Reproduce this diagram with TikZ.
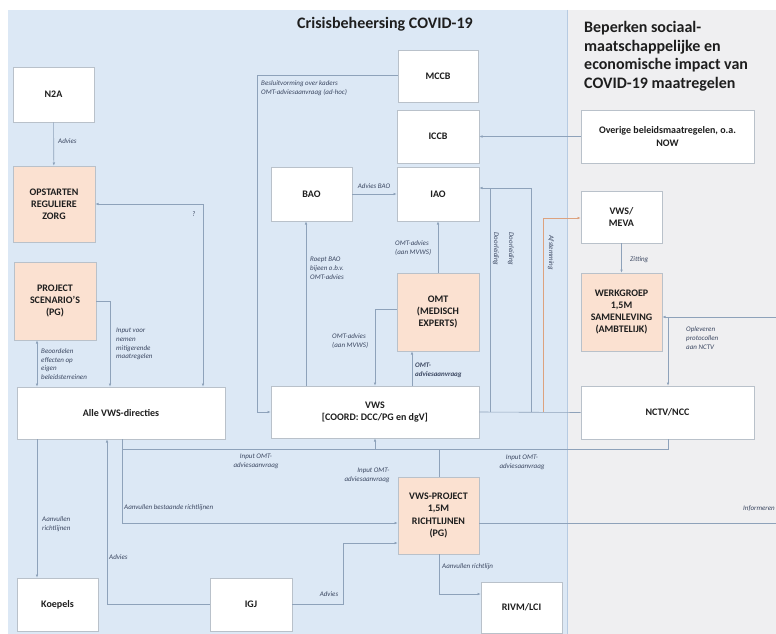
\documentclass[tikz,border=0pt]{standalone}
\usepackage{fontspec}
\setmainfont{Carlito}
\usetikzlibrary{arrows.meta}
\definecolor{bluebg}{HTML}{DCE8F5}
\definecolor{graybg}{HTML}{EFEFF1}
\definecolor{peach}{HTML}{FBE1D1}
\definecolor{boxline}{HTML}{B9C1CA}
\definecolor{linec}{HTML}{8EA2BA}
\definecolor{txt}{HTML}{1E1E1E}
\definecolor{lbltxt}{HTML}{3A4660}
\definecolor{orangec}{HTML}{DDA27E}
\definecolor{bluedge}{HTML}{B7CBE2}
\begin{document}
\begin{tikzpicture}[x=1pt,y=-1pt,
  box/.style={draw=boxline, fill=white, line width=0.6pt, font=\bfseries\fontsize{10}{12.2}\selectfont, align=center, text=txt, inner sep=2pt},
  pbox/.style={box, fill=peach},
  link/.style={draw=linec, line width=0.6pt},
  arr/.style={link, -{Latex[length=3.2pt,width=2.6pt]}},
  lbl/.style={font=\itshape\fontsize{7}{8.8}\selectfont, text=lbltxt, align=left, inner sep=0pt},
  ttl/.style={font=\bfseries\fontsize{16}{18.7}\selectfont, text=txt, inner sep=0pt, align=left}
]
\useasboundingbox (0,0) rectangle (776,634);
% backgrounds
\fill[white] (0,0) rectangle (776,634);
\fill[bluebg] (8,10) rectangle (568,634);
\fill[graybg] (568,10) rectangle (776,634);
\draw[bluedge, line width=0.8pt] (567.5,10) -- (567.5,634);

% titles
\node[ttl, anchor=base] (t1) at (385,29) {Crisisbeheersing COVID-19};
\node[ttl, anchor=north west] (t2) at (584,21) {Beperken sociaal-\\maatschappelijke en\\economische impact van\\COVID-19 maatregelen};

% boxes
\node[box, minimum width=81pt, minimum height=55pt] (n2a) at (53.5,94.5) {N2A};
\node[pbox, minimum width=82pt, minimum height=76pt] (opst) at (54,204) {OPSTARTEN\\REGULIERE\\ZORG};
\node[pbox, minimum width=82pt, minimum height=78pt] (proj) at (55,301) {PROJECT\\SCENARIO'S\\(PG)};
\node[box, minimum width=208pt, minimum height=52pt] (alle) at (121,413) {Alle VWS-directies};
\node[box, minimum width=81pt, minimum height=53pt] (koep) at (57.5,604.5) {Koepels};
\node[box, minimum width=82pt, minimum height=53pt] (igj) at (251,604.5) {IGJ};
\node[box, minimum width=81pt, minimum height=51pt] (rivm) at (521.5,607.5) {RIVM/LCI};
\node[pbox, minimum width=81pt, minimum height=77pt] (vwsp) at (438.5,515.5) {VWS-PROJECT\\1,5M\\RICHTLIJNEN\\(PG)};
\node[box, minimum width=208pt, minimum height=52pt] (vws) at (375,412) {VWS\\{[COORD: DCC/PG en dgV]}};
\node[pbox, minimum width=82pt, minimum height=78pt] (omt) at (438,312) {OMT\\(MEDISCH\\EXPERTS)};
\node[box, minimum width=81pt, minimum height=54pt] (bao) at (311.5,194) {BAO};
\node[box, minimum width=82pt, minimum height=54pt] (iao) at (438,194) {IAO};
\node[box, minimum width=82pt, minimum height=53pt] (iccb) at (438,136.5) {ICCB};
\node[box, minimum width=80pt, minimum height=52pt] (mccb) at (438,76) {MCCB};
\node[box, minimum width=173pt, minimum height=53pt] (over) at (667.5,136.5) {Overige beleidsmaatregelen, o.a.\\NOW};
\node[box, minimum width=81pt, minimum height=52pt] (meva) at (621.5,217) {VWS/\\MEVA};
\node[pbox, minimum width=81pt, minimum height=78pt] (werk) at (621.5,312) {WERKGROEP\\1,5M\\SAMENLEVING\\(AMBTELIJK)};
\node[box, minimum width=173pt, minimum height=53pt] (nctv) at (667.5,412.5) {NCTV/NCC};

% coordinates
\coordinate (c2) at (203,204);
\coordinate (c3) at (110,301);
\coordinate (c4) at (37,360);
\coordinate (c6) at (107,604.5);
\coordinate (b1) at (122,449);
\coordinate (b2) at (668,449);
\coordinate (b3) at (375,449);
\coordinate (b4) at (439,449);
\coordinate (c8) at (122,523);
\coordinate (inf) at (776,523);
\coordinate (c9a) at (343,604.5);
\coordinate (c9b) at (343,543);
\coordinate (c10) at (439,594);
\coordinate (c12) at (306,300);
\coordinate (c14) at (375,309);
\coordinate (c15) at (412,370);
\coordinate (c16a) at (257,75);
\coordinate (c16b) at (257,412);
\coordinate (c18a) at (490,188);
\coordinate (c18b) at (531,188);
\coordinate (c19) at (543,218);
\coordinate (c21) at (668,317);
\coordinate (e21) at (776,317);

% connectors
\draw[arr] (n2a) -- (opst);
\draw[arr, {Latex[length=3.2pt,width=2.6pt]}-{Latex[length=3.2pt,width=2.6pt]}] (opst.east |- c2) -- (c2) -- (alle.north -| c2);
\draw[arr] (proj.east |- c3) -- (c3) -- (alle.north -| c3);
\draw[arr, {Latex[length=3.2pt,width=2.6pt]}-{Latex[length=3.2pt,width=2.6pt]}] (proj.south -| c4) -- (alle.north -| c4);
\draw[arr] (alle.south -| c4) -- (koep.north -| c4);
\draw[arr] (igj.west) -- (c6) -- (alle.south -| c6);
\draw[link] (alle.south -| b1) -- (b1) -- (b2) -- (nctv.south -| b2);
\draw[arr] (b3) -- (vws.south -| b3);
\draw[link] (vwsp.north -| b4) -- (b4);
\draw[arr] (b1) -- (c8) -- (vwsp.west |- c8);
\draw[link] (vwsp.east |- inf) -- (inf);
\draw[arr] (igj.east) -- (c9a) -- (c9b) -- (vwsp.west |- c9b);
\draw[arr] (vwsp.south -| c10) -- (c10) -- (rivm.west |- c10);
\draw[arr] (bao.east) -- (iao.west);
\draw[arr] (vws.north -| c12) -- (bao.south -| c12);
\draw[arr] (omt.north) -- (iao.south);
\draw[arr] (omt.west |- c14) -- (c14) -- (vws.north -| c14);
\draw[arr] (vws.north -| c15) -- (omt.south -| c15);
\draw[arr] (mccb.west |- c16a) -- (c16a) -- (c16b) -- (vws.west |- c16b);
\draw[arr] (over.west) -- (iccb.east);
\draw[arr] (c18b |- vws.east) -- (c18b) -- (iao.east |- c18b);
\draw[link] (c18a |- vws.east) -- (c18a);
\draw[link] (vws.east) -- (nctv.west);
\draw[arr, draw=orangec] (c19 |- vws.east) -- (c19) -- (meva.west |- c19);
\draw[arr] (meva) -- (werk);
\draw[arr] (e21) -- (werk.east |- c21);
\draw[arr] (c21) -- (nctv.north -| c21);

% labels
\node[lbl, anchor=west] (l1) at (58,141) {Advies};
\node[lbl, anchor=west] (l2) at (192,214) {?};
\node[lbl, anchor=west] (l3) at (116,344) {Input voor\\nemen\\mitigerende\\maatregelen};
\node[lbl, anchor=west] (l4) at (41,364) {Beoordelen\\effecten op\\eigen\\beleidsterreinen};
\node[lbl, anchor=west] (l5) at (42,524) {Aanvullen\\richtlijnen};
\node[lbl, anchor=west] (l6) at (109,557) {Advies};
\node[lbl, anchor=west] (l7) at (124,508) {Aanvullen bestaande richtlijnen};
\node[lbl, align=center] (l8) at (256,461) {Input OMT-\\adviesaanvraag};
\node[lbl, align=right] (l9) at (367,475) {Input OMT-\\adviesaanvraag};
\node[lbl, align=center] (l10) at (522,462) {Input OMT-\\adviesaanvraag};
\node[lbl] (l11) at (329,594) {Advies};
\node[lbl, anchor=west] (l12) at (442,567) {Aanvullen richtlijn};
\node[lbl, anchor=east] (l13) at (775,509) {Informeren};
\node[lbl] (l14) at (374,186) {Advies BAO};
\node[lbl, anchor=west] (l15) at (310,268) {Roept BAO\\bijeen o.b.v.\\OMT-advies};
\node[lbl, anchor=west] (l16) at (395,248) {OMT-advies\\(aan MVWS)};
\node[lbl, anchor=west] (l17) at (332,341) {OMT-advies\\(aan MVWS)};
\node[lbl, anchor=west, font=\bfseries\itshape\fontsize{7}{8.8}\selectfont] (l18) at (415,370) {OMT-\\adviesaanvraag};
\node[lbl, anchor=west] (l19) at (261,88) {Besluitvorming over kaders\\OMT-adviesaanvraag (ad-hoc)};
\node[lbl, rotate=-90] (l20) at (496,249) {Doorleiding};
\node[lbl, rotate=-90] (l21) at (511,249) {Doorleiding};
\node[lbl, rotate=-90] (l22) at (551,253) {Afstemming};
\node[lbl, anchor=west] (l23) at (630,260) {Zitting};
\node[lbl, anchor=west] (l24) at (686,338) {Opleveren\\protocollen\\aan NCTV};
\end{tikzpicture}
\end{document}
